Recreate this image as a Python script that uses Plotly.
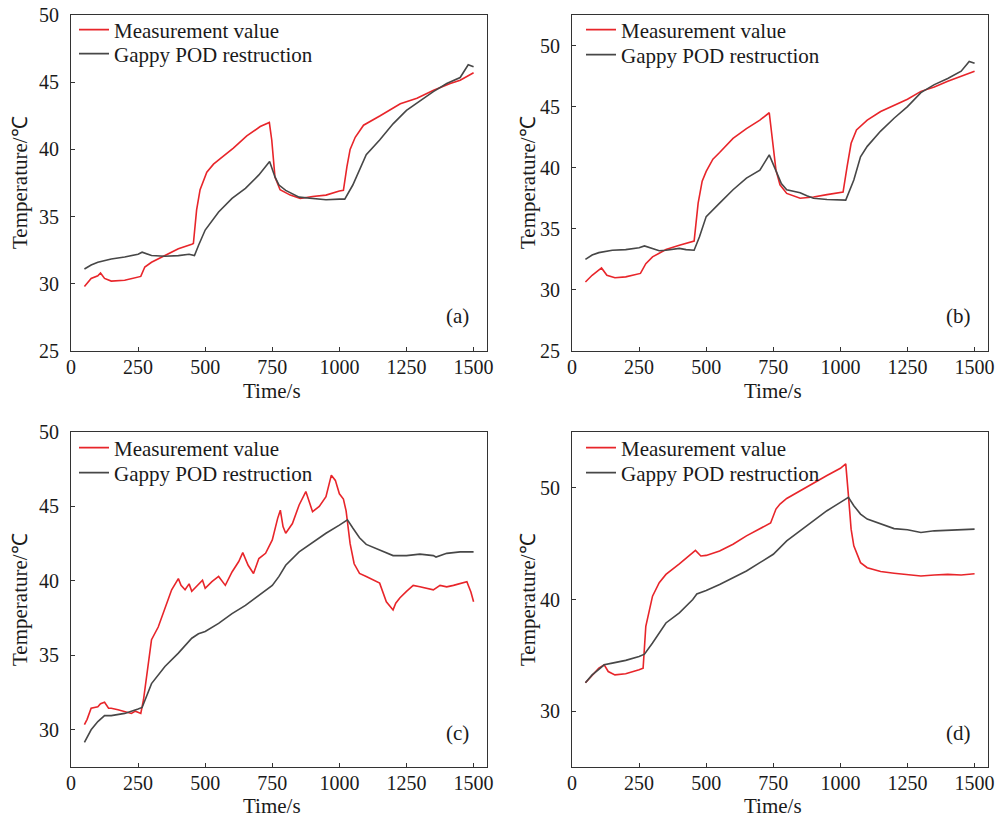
import plotly.graph_objects as go

# ---------------- data ----------------
# Panel (a)
a_meas_t = [50, 75, 100, 110, 125, 150, 200, 250, 260, 275, 300, 350, 400, 450, 456, 468, 481, 506, 531, 555, 605, 655, 705, 739, 748, 760, 779, 817, 854, 900, 950, 1000, 1015, 1028, 1040, 1059, 1090, 1152, 1227, 1289, 1351, 1413, 1450, 1500]
a_meas_v = [29.8, 30.4, 30.6, 30.8, 30.4, 30.2, 30.26, 30.5, 30.55, 31.25, 31.6, 32.1, 32.6, 32.95, 33.0, 35.5, 37.0, 38.3, 38.9, 39.3, 40.1, 41.0, 41.7, 42.0, 40.7, 37.95, 37.0, 36.6, 36.35, 36.5, 36.6, 36.9, 36.95, 38.7, 40.0, 40.9, 41.8, 42.5, 43.4, 43.8, 44.4, 44.9, 45.15, 45.7]
a_pod_t = [50, 75, 100, 150, 200, 250, 265, 300, 350, 400, 440, 460, 475, 500, 550, 600, 650, 700, 740, 760, 775, 800, 850, 900, 950, 1000, 1020, 1050, 1075, 1100, 1150, 1200, 1250, 1300, 1350, 1400, 1450, 1480, 1500]
a_pod_v = [31.1, 31.4, 31.6, 31.85, 32.0, 32.2, 32.35, 32.1, 32.05, 32.1, 32.2, 32.1, 32.85, 34.0, 35.35, 36.35, 37.1, 38.1, 39.1, 37.95, 37.35, 36.95, 36.45, 36.35, 36.25, 36.3, 36.3, 37.35, 38.45, 39.6, 40.7, 41.9, 42.9, 43.6, 44.3, 44.9, 45.35, 46.3, 46.15]

# Panel (b)
b_meas_t = [50, 75, 110, 130, 160, 200, 255, 275, 300, 350, 400, 450, 455, 470, 485, 500, 525, 550, 600, 650, 700, 735, 750, 760, 775, 800, 850, 900, 950, 1000, 1010, 1025, 1040, 1060, 1100, 1150, 1200, 1250, 1300, 1350, 1400, 1450, 1500]
b_meas_v = [30.65, 31.2, 31.8, 31.2, 31.0, 31.07, 31.35, 32.15, 32.7, 33.3, 33.65, 33.95, 34.0, 37.1, 38.9, 39.7, 40.7, 41.25, 42.4, 43.2, 43.9, 44.5, 41.5, 39.8, 38.6, 37.9, 37.5, 37.6, 37.8, 37.95, 38.0, 40.1, 42.0, 43.1, 43.9, 44.6, 45.07, 45.6, 46.25, 46.6, 47.07, 47.5, 47.9]
b_pod_t = [50, 75, 100, 150, 200, 250, 270, 300, 325, 350, 400, 425, 455, 475, 500, 550, 600, 650, 700, 735, 760, 780, 800, 850, 875, 900, 950, 1000, 1020, 1050, 1075, 1100, 1150, 1200, 1250, 1300, 1350, 1400, 1450, 1480, 1500]
b_pod_v = [32.5, 32.85, 33.05, 33.25, 33.3, 33.45, 33.6, 33.4, 33.2, 33.25, 33.4, 33.3, 33.25, 34.35, 36.0, 37.1, 38.2, 39.15, 39.8, 41.05, 39.8, 38.7, 38.2, 37.95, 37.7, 37.5, 37.4, 37.4, 37.35, 39.0, 40.9, 41.75, 43.0, 44.05, 45.0, 46.15, 46.8, 47.3, 47.9, 48.7, 48.55]

# Panel (c)
c_meas_t = [50, 60, 75, 100, 110, 125, 140, 150, 175, 200, 225, 240, 260, 270, 285, 300, 325, 350, 375, 400, 410, 425, 440, 450, 475, 490, 500, 525, 550, 575, 600, 625, 640, 660, 680, 700, 725, 750, 770, 780, 790, 800, 825, 850, 875, 890, 900, 925, 950, 970, 985, 1000, 1015, 1025, 1040, 1055, 1075, 1100, 1125, 1150, 1175, 1200, 1210, 1225, 1250, 1275, 1300, 1325, 1350, 1375, 1400, 1425, 1450, 1475, 1490, 1500]
c_meas_v = [30.35, 30.7, 31.45, 31.55, 31.75, 31.85, 31.45, 31.45, 31.35, 31.25, 31.1, 31.25, 31.1, 32.0, 34.0, 36.05, 36.9, 38.15, 39.4, 40.15, 39.7, 39.4, 39.8, 39.3, 39.8, 40.05, 39.5, 39.95, 40.3, 39.7, 40.6, 41.3, 41.9, 41.05, 40.5, 41.5, 41.85, 42.75, 44.2, 44.75, 43.65, 43.2, 43.85, 45.1, 46.0, 45.2, 44.65, 45.0, 45.65, 47.1, 46.75, 45.85, 45.5, 44.7, 42.5, 41.15, 40.5, 40.3, 40.05, 39.85, 38.6, 38.05, 38.5, 38.85, 39.3, 39.7, 39.6, 39.5, 39.4, 39.7, 39.6, 39.7, 39.85, 39.95, 39.25, 38.6]
c_pod_t = [50, 75, 100, 125, 150, 200, 250, 265, 300, 350, 400, 450, 475, 500, 550, 600, 650, 700, 750, 775, 800, 850, 900, 950, 1000, 1030, 1050, 1075, 1100, 1150, 1200, 1250, 1300, 1350, 1360, 1400, 1450, 1500]
c_pod_v = [29.15, 30.0, 30.55, 30.95, 30.95, 31.1, 31.4, 31.5, 33.1, 34.25, 35.15, 36.15, 36.45, 36.6, 37.15, 37.8, 38.35, 39.05, 39.7, 40.3, 41.05, 41.95, 42.6, 43.2, 43.75, 44.1, 43.55, 42.9, 42.45, 42.05, 41.7, 41.7, 41.8, 41.7, 41.6, 41.85, 41.95, 41.95]

# Panel (d)
d_meas_t = [50, 75, 100, 120, 135, 160, 200, 250, 265, 275, 290, 300, 325, 350, 400, 450, 460, 480, 500, 550, 600, 650, 700, 740, 760, 775, 800, 850, 900, 950, 1000, 1020, 1030, 1040, 1050, 1075, 1100, 1150, 1200, 1250, 1300, 1350, 1400, 1450, 1500]
d_meas_v = [32.55, 33.25, 33.85, 34.15, 33.55, 33.25, 33.35, 33.7, 33.85, 37.6, 39.4, 40.3, 41.5, 42.25, 43.2, 44.15, 44.4, 43.9, 43.95, 44.35, 44.95, 45.7, 46.3, 46.85, 48.1, 48.55, 49.05, 49.75, 50.45, 51.1, 51.75, 52.15, 49.3, 46.3, 44.8, 43.3, 42.85, 42.5, 42.35, 42.2, 42.1, 42.2, 42.25, 42.2, 42.3]
d_pod_t = [50, 75, 100, 120, 150, 200, 250, 270, 300, 325, 350, 400, 450, 465, 500, 550, 600, 650, 700, 740, 750, 800, 850, 900, 950, 1000, 1030, 1050, 1075, 1100, 1150, 1200, 1250, 1300, 1350, 1400, 1450, 1500]
d_pod_v = [32.55, 33.25, 33.75, 34.15, 34.3, 34.55, 34.9, 35.1, 36.1, 37.0, 37.9, 38.8, 40.0, 40.5, 40.8, 41.35, 41.95, 42.55, 43.3, 43.9, 44.05, 45.25, 46.15, 47.05, 47.95, 48.7, 49.15, 48.4, 47.65, 47.2, 46.75, 46.35, 46.25, 46.0, 46.15, 46.2, 46.25, 46.3]

series_names = ["Measurement value", "Gappy POD restruction"]
panel_labels = ["(a)", "(b)", "(c)", "(d)"]
x_title = "Time/s"
y_title = "Temperature/℃"
x_ticks = [0, 250, 500, 750, 1000, 1250, 1500]
y_ranges = [[25, 50], [25, 52.5], [27.5, 50], [25, 55]]
y_ticks = [[25, 30, 35, 40, 45, 50], [25, 30, 35, 40, 45, 50], [30, 35, 40, 45, 50], [30, 40, 50]]

panels = [
    (a_meas_t, a_meas_v, a_pod_t, a_pod_v),
    (b_meas_t, b_meas_v, b_pod_t, b_pod_v),
    (c_meas_t, c_meas_v, c_pod_t, c_pod_v),
    (d_meas_t, d_meas_v, d_pod_t, d_pod_v),
]

# ---------------- layout geometry (pixels) ----------------
W, H = 999, 818
FONT = "Liberation Serif, Times New Roman, serif"
RED = "#e8252a"
GRAY = "#474747"
AX = "#333333"
TXT = "#1a1a1a"

# plot areas: (left, right, top, bottom) px
boxes = [
    (71, 487, 15, 351),
    (572, 988, 15, 351),
    (71, 487, 432, 767),
    (572, 988, 432, 767),
]
# legend text left edge and row centres (px)
leg_x = [115, 622, 115, 622]
leg_rows = [(30, 54), (30, 55), (448, 473), (448, 473)]
# axis title centres (px)
xt_pos = [(272, 391), (773, 391), (272, 806), (773, 806)]
yt_pos = [(20, 183), (528, 183), (20, 600), (528, 600)]
lab_pos = [(457, 316), (958, 316), (457, 733), (958, 733)]

fig = go.Figure()
layout = dict(
    width=W, height=H,
    margin=dict(l=0, r=0, t=0, b=0, autoexpand=False),
    paper_bgcolor="white", plot_bgcolor="white",
    font=dict(family=FONT, size=20, color=TXT),
    showlegend=True,
)
annotations = []
leg_idx = 0
for i, (mt, mv, pt, pv) in enumerate(panels):
    n = i + 1
    xa = "x" if n == 1 else f"x{n}"
    ya = "y" if n == 1 else f"y{n}"
    l, r, t, b = boxes[i]
    for k, (tt, vv, col) in enumerate([(mt, mv, RED), (pt, pv, GRAY)]):
        leg_idx += 1
        lg = "legend" if leg_idx == 1 else f"legend{leg_idx}"
        fig.add_trace(go.Scatter(x=tt, y=vv, mode="lines", name=series_names[k],
                                 line=dict(color=col, width=1.6), xaxis=xa, yaxis=ya, legend=lg))
        layout[lg] = dict(x=(leg_x[i] - 41) / W, y=1 - leg_rows[i][k] / H,
                          xanchor="left", yanchor="middle",
                          bgcolor="rgba(0,0,0,0)", font=dict(family=FONT, size=21, color=TXT),
                          itemwidth=30)
    xkey = "xaxis" if n == 1 else f"xaxis{n}"
    ykey = "yaxis" if n == 1 else f"yaxis{n}"
    common = dict(showgrid=False, zeroline=False, showline=True, linecolor=AX, linewidth=1,
                  mirror=True, ticks="inside", ticklen=4, tickcolor=AX, tickwidth=1,
                  tickfont=dict(family=FONT, size=20, color=TXT))
    layout[xkey] = dict(domain=[l / W, r / W], anchor=ya, range=[0, 1550],
                        tickvals=x_ticks, ticklabelstandoff=-2, **common)
    layout[ykey] = dict(domain=[1 - b / H, 1 - t / H], anchor=xa, range=y_ranges[i],
                        tickvals=y_ticks[i], ticklabelstandoff=7, **common)
    annotations.append(dict(text=x_title, x=xt_pos[i][0] / W, y=1 - xt_pos[i][1] / H,
                            xref="paper", yref="paper", showarrow=False,
                            xanchor="center", yanchor="middle",
                            font=dict(family=FONT, size=21, color=TXT)))
    annotations.append(dict(text=y_title, x=yt_pos[i][0] / W, y=1 - yt_pos[i][1] / H,
                            xref="paper", yref="paper", showarrow=False, textangle=-90,
                            xanchor="center", yanchor="middle",
                            font=dict(family=FONT, size=21, color=TXT)))
    annotations.append(dict(text=panel_labels[i], x=lab_pos[i][0] / W, y=1 - lab_pos[i][1] / H,
                            xref="paper", yref="paper", showarrow=False,
                            xanchor="center", yanchor="middle",
                            font=dict(family=FONT, size=21, color=TXT)))

layout["annotations"] = annotations
fig.update_layout(**layout)
fig.write_html("out.html")
